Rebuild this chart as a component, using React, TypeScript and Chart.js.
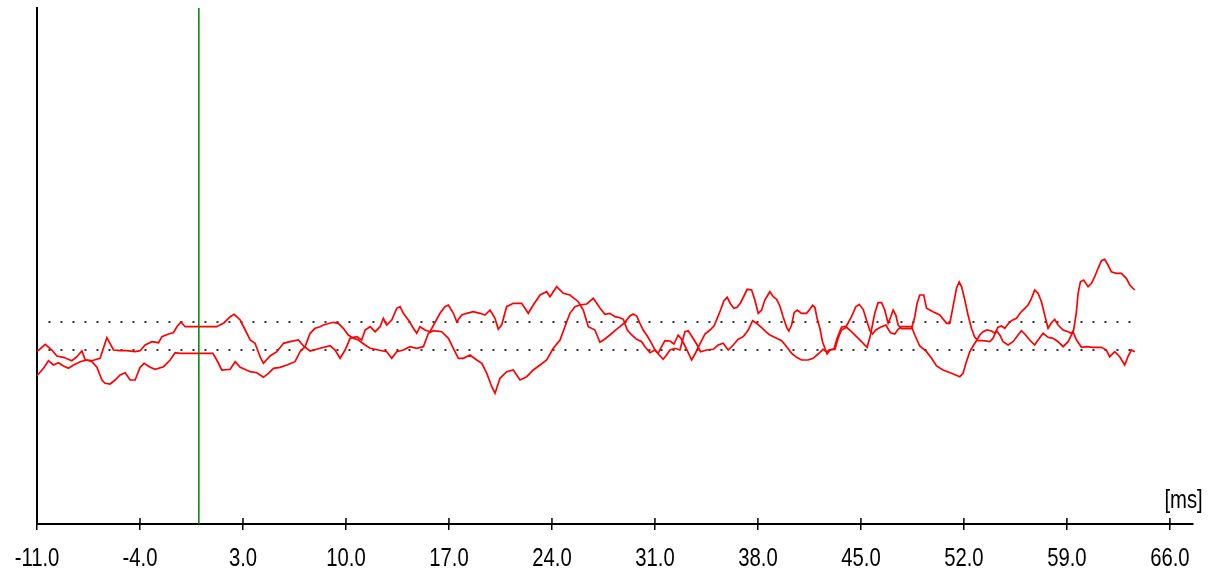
import { useEffect, useRef } from "react";
import { Chart, registerables } from "chart.js";

Chart.register(...registerables);

// x axis (ms)
const X_MIN = -11;
const X_MAX = 67.55;
const X_TICKS = [-11, -4, 3, 10, 17, 24, 31, 38, 45, 52, 59, 66];
const X_UNIT = "[ms]";

// y axis (arbitrary amplitude units, hidden)
const Y_MIN = -17.4;
const Y_MAX = 34.2;

// stimulus marker and channel baselines
const STIMULUS_MS = 0;
const BASELINES = [2.8, 0];
const BASELINE_START = -10.22;
const BASELINE_END = 63.5;

// trace A: [ms, amplitude]
const TRACE_A: [number, number][] = [
  [-11.0, -0.17], [-10.44, 0.57], [-9.99, 0], [-9.65, -0.6], [-9.2, -0.73], [-8.63, -1.07], [-8.29, -0.67],
  [-7.95, -0.1], [-7.72, -1.0], [-7.27, -1.07], [-6.71, -0.83], [-6.25, 1.23], [-5.8, 0], [-5.35, -0.07],
  [-4.89, -0.07], [-4.33, -0.17], [-3.99, -0.07], [-3.65, 0.5], [-3.19, 0.83], [-2.74, 0.73], [-2.51, 1.33],
  [-2.07, 1.6], [-1.73, 1.73], [-1.49, 2.33], [-1.22, 2.8], [-0.93, 2.33], [1.22, 2.33], [1.72, 2.73],
  [2.13, 3.33], [2.4, 3.57], [2.81, 3.0], [3.15, 2.0], [3.49, 1.0], [3.82, 0.67], [4.16, -0.67], [4.39, -1.33],
  [4.84, -0.6], [5.3, -0.17], [5.75, 0.67], [6.2, 0.83], [6.77, 1.0], [7.11, 0.4], [7.56, -0.1], [8.24, 0.17],
  [8.92, 0.43], [9.26, 0], [9.6, -0.83], [9.94, 0], [10.28, 1.17], [10.73, 1.33], [11.07, 1.0], [11.3, 2.0],
  [11.64, 2.33], [11.98, 1.83], [12.32, 2.33], [12.54, 3.17], [12.77, 2.5], [13.11, 3.0], [13.45, 4.17],
  [13.68, 4.33], [13.9, 3.67], [14.24, 3.0], [14.58, 2.17], [14.81, 1.67], [15.03, 2.33], [15.37, 2.0],
  [15.71, 1.83], [16.39, 3.67], [16.73, 4.33], [16.96, 4.5], [17.3, 3.67], [17.53, 2.83], [17.87, 3.5],
  [18.21, 3.67], [18.65, 3.83], [19.11, 3.67], [19.45, 3.5], [19.79, 4.0], [20.13, 3.17], [20.35, 2.07],
  [20.58, 2.5], [20.92, 4.33], [21.37, 4.67], [21.94, 4.67], [22.39, 3.67], [22.73, 4.5], [23.19, 5.5],
  [23.64, 5.83], [23.87, 5.33], [24.32, 6.33], [24.77, 5.67], [25.22, 5.5], [25.79, 4.83], [26.13, 4.0],
  [26.47, 2.33], [26.92, 2.0], [27.26, 0.77], [27.6, 1.1], [27.94, 1.5], [28.28, 1.93], [28.62, 2.33],
  [28.96, 2.77], [29.3, 3.4], [29.52, 3.6], [29.76, 3.4], [29.98, 2.67], [30.2, 2.0], [30.48, 1.4],
  [30.77, 0.67], [31.0, 0], [31.29, -0.5], [31.56, -0.93], [31.79, -0.5], [32.02, 0], [32.36, 0.17],
  [32.7, 0], [33.04, 1.83], [33.26, 1.93], [33.49, 1.4], [33.83, 0.6], [34.1, -0.17], [34.51, 0],
  [34.96, 0.07], [35.3, 0.5], [35.64, 0.67], [35.98, 0], [36.32, 0.5], [36.66, 1.07], [37.0, 1.33],
  [37.34, 2.0], [37.64, 2.93], [37.91, 2.67], [38.25, 2.23], [38.59, 1.77], [38.81, 1.5], [39.27, 1.17],
  [39.61, 0.93], [39.95, 0.33], [40.29, -0.33], [40.63, -0.73], [40.96, -1.0], [41.41, -1.0], [41.75, -0.83],
  [42.09, -0.4], [42.43, 0.07], [42.66, -0.17], [43.0, 0.07], [43.23, 0.07], [43.45, 1.17], [43.68, 2.0],
  [44.02, 2.27], [44.36, 1.83], [44.7, 1.33], [45.04, 0.83], [45.42, 0.27], [45.65, 1.5], [45.94, 3.67],
  [46.17, 4.73], [46.4, 4.73], [46.62, 4.0], [46.85, 2.67], [47.03, 3.33], [47.19, 4.0], [47.37, 3.5],
  [47.53, 2.5], [47.76, 2.13], [48.44, 2.13], [48.66, 3.33], [48.82, 4.67], [49.0, 5.5], [49.27, 5.5],
  [49.46, 4.17], [49.9, 3.83], [50.36, 3.5], [50.82, 2.67], [51.04, 2.67], [51.26, 4.33], [51.5, 6.2],
  [51.68, 6.8], [51.85, 6.3], [52.06, 5.0], [52.28, 3.5], [52.51, 2.17], [52.74, 1.27], [52.96, 0.93],
  [53.3, 0.93], [53.76, 0.83], [53.98, 1.17], [54.21, 1.93], [54.44, 1.5], [54.66, 0.83], [55.0, 0.5],
  [55.34, 0.83], [55.68, 1.5], [55.91, 1.93], [56.14, 1.6], [56.47, 1.0], [56.81, 0.5], [57.04, 1.0],
  [57.38, 1.67], [57.72, 1.27], [58.06, 1.17], [58.4, 0.83], [58.74, 0.33], [59.08, 0.83], [59.42, 1.83],
  [59.65, 1.0], [59.99, 0.27], [60.33, 0.33], [60.77, 0.27], [61.34, 0.27], [61.68, 0], [61.91, -0.67],
  [62.25, -0.17], [62.59, -0.67], [62.93, -1.5], [63.15, -0.67], [63.38, 0], [63.61, -0.17],
];

// trace B: [ms, amplitude]
const TRACE_B: [number, number][] = [
  [-11.0, -2.57], [-10.56, -1.83], [-10.22, -1.07], [-9.88, -1.5], [-9.54, -1.27], [-9.2, -1.6], [-8.86, -1.83],
  [-8.52, -1.5], [-8.06, -1.17], [-7.61, -1.0], [-7.27, -1.17], [-6.93, -1.73], [-6.59, -3.0], [-6.37, -3.33],
  [-6.03, -3.4], [-5.69, -3.0], [-5.35, -2.5], [-5.01, -2.27], [-4.67, -3.0], [-4.33, -3.0], [-3.99, -1.73],
  [-3.72, -1.33], [-3.31, -1.73], [-2.97, -1.93], [-2.4, -1.67], [-1.95, -1.0], [-1.61, -0.27], [-1.27, -0.33],
  [0.95, -0.33], [1.22, -1.0], [1.56, -2.0], [2.13, -1.93], [2.47, -1.17], [2.81, -1.73], [3.49, -2.17],
  [3.94, -2.27], [4.39, -2.73], [4.73, -2.33], [5.07, -1.83], [5.52, -1.73], [5.98, -1.5], [6.54, -1.17],
  [6.88, -0.17], [7.22, 0.33], [7.56, 1.67], [7.9, 2.17], [8.24, 2.33], [8.46, 2.5], [9.14, 2.77], [9.48, 2.67],
  [9.82, 2.17], [10.16, 1.5], [10.5, 1.17], [10.84, 1.0], [11.3, 0.5], [11.64, 0.17], [12.2, 0], [12.77, -0.17],
  [13.11, -0.83], [13.45, -0.17], [13.9, 0], [14.35, 0.33], [14.81, 0.17], [15.26, 0.33], [15.6, 1.67],
  [15.94, 1.93], [16.51, 1.83], [16.96, 1.17], [17.3, 0.17], [17.64, -0.83], [17.98, -0.83], [18.43, -0.5],
  [18.89, -1.0], [19.23, -1.33], [19.57, -2.33], [19.91, -3.67], [20.13, -4.33], [20.47, -2.83], [20.92, -2.17],
  [21.37, -2.0], [21.83, -3.0], [22.28, -2.67], [22.73, -2.0], [23.19, -1.5], [23.64, -1.0], [24.09, 0.17],
  [24.55, 1.0], [24.88, 2.33], [25.22, 3.67], [25.56, 4.33], [25.9, 4.5], [26.36, 4.6], [26.81, 5.17],
  [27.26, 4.2], [27.6, 3.57], [27.94, 3.67], [28.28, 3.33], [28.62, 3.23], [28.85, 3.07], [29.12, 2.0],
  [29.42, 1.5], [29.76, 1.07], [30.1, 0.83], [30.32, 0.33], [30.66, -0.27], [31.0, 0], [31.22, -0.33],
  [31.45, 0.33], [31.68, 0.93], [32.02, 0.9], [32.29, 0.6], [32.58, 1.5], [32.81, 1.07], [33.04, 0.4],
  [33.26, -0.27], [33.49, -1.0], [33.72, -0.4], [33.94, 0.27], [34.17, 0.93], [34.4, 1.6], [34.74, 2.0],
  [35.01, 2.4], [35.23, 3.17], [35.46, 4.0], [35.69, 4.93], [35.91, 5.27], [36.14, 4.6], [36.37, 4.17],
  [36.59, 4.27], [36.82, 4.73], [37.05, 5.4], [37.27, 6.07], [37.57, 6.0], [37.79, 5.0], [38.02, 3.67],
  [38.25, 4.0], [38.47, 5.0], [38.81, 5.83], [39.04, 5.33], [39.27, 5.07], [39.49, 4.4], [39.71, 3.33],
  [39.95, 2.27], [40.1, 1.9], [40.29, 2.5], [40.46, 3.73], [40.67, 4.0], [40.96, 3.67], [41.3, 3.67],
  [41.53, 4.07], [41.71, 4.47], [41.87, 4.27], [42.02, 3.17], [42.21, 2.17], [42.39, 0.83], [42.55, 0.17],
  [42.7, -0.4], [42.89, 0], [43.16, 0.07], [43.38, 1.17], [43.68, 2.27], [44.02, 2.4], [44.36, 3.33],
  [44.65, 4.33], [44.88, 4.57], [45.15, 4.07], [45.38, 3.0], [45.61, 1.93], [45.79, 1.6], [46.01, 2.0],
  [46.33, 2.27], [46.69, 2.5], [47.01, 1.73], [47.3, 1.6], [47.53, 2.07], [47.76, 2.33], [48.44, 2.33],
  [48.66, 1.5], [49.0, 0.4], [49.46, -0.17], [49.8, -0.83], [50.14, -1.6], [50.58, -2.0], [51.16, -2.33],
  [51.72, -2.67], [51.94, -2.33], [52.17, -1.17], [52.4, -0.17], [52.62, 0.4], [52.85, 0.93], [53.08, 1.5],
  [53.3, 1.83], [53.57, 2.0], [53.87, 1.9], [54.1, 1.67], [54.32, 2.27], [54.55, 2.4], [54.78, 2.17],
  [55.0, 2.6], [55.23, 2.93], [55.57, 3.17], [55.84, 3.73], [56.14, 4.17], [56.36, 4.5], [56.59, 5.17],
  [56.81, 6.0], [57.04, 5.67], [57.27, 4.83], [57.49, 3.5], [57.72, 2.17], [57.95, 2.73], [58.17, 3.07],
  [58.4, 2.5], [58.74, 2.0], [59.08, 1.83], [59.31, 1.67], [59.46, 2.0], [59.65, 3.83], [59.76, 5.67],
  [59.92, 6.83], [60.14, 7.0], [60.44, 6.33], [60.67, 6.67], [60.89, 7.33], [61.12, 8.17], [61.35, 8.93],
  [61.57, 9.07], [61.79, 8.5], [62.02, 7.83], [62.36, 7.67], [62.7, 7.67], [63.04, 7.17], [63.27, 6.5],
  [63.61, 6.0],
];

const FONT = '"Liberation Sans", Arial, sans-serif';
const FONT_SIZE = 26;
const TEXT_SQUEEZE = 0.78; // the original labels are drawn with a narrow face

const toPoints = (arr: [number, number][]) => arr.map(([x, y]) => ({ x, y }));

const fmtTick = (v: number) => Number(v).toFixed(1);

function drawNarrowText(ctx: CanvasRenderingContext2D, text: string, x: number, y: number, align: CanvasTextAlign) {
  ctx.save();
  ctx.translate(x, y);
  ctx.scale(TEXT_SQUEEZE, 1);
  ctx.textAlign = align;
  ctx.textBaseline = "alphabetic";
  ctx.fillText(text, 0, 0);
  ctx.restore();
}

const overlayPlugin = {
  id: "overlay",
  afterDraw(chart: any) {
    const { ctx, chartArea, scales } = chart;
    const xs = scales.x;
    ctx.save();
    // upper halves of the tick marks (ticks cross the axis)
    ctx.strokeStyle = "#000";
    ctx.lineWidth = 1.5;
    for (const t of xs.ticks) {
      const px = xs.getPixelForValue(t.value);
      ctx.beginPath();
      ctx.moveTo(px, chartArea.bottom - 6);
      ctx.lineTo(px, chartArea.bottom);
      ctx.stroke();
    }
    // tick labels
    ctx.fillStyle = "#000";
    ctx.font = `${FONT_SIZE}px ${FONT}`;
    for (const t of xs.ticks) {
      const px = xs.getPixelForValue(t.value);
      drawNarrowText(ctx, fmtTick(t.value), px, chartArea.bottom + 42, "center");
    }
    // unit label
    drawNarrowText(ctx, X_UNIT, xs.right + 10, chartArea.bottom - 16, "right");
    ctx.restore();
  },
};

export default function App() {
  const canvasRef = useRef<HTMLCanvasElement | null>(null);

  useEffect(() => {
    const canvas = canvasRef.current;
    if (!canvas) return;

    const datasets: any[] = [
      {
        label: "stimulus",
        data: [
          { x: STIMULUS_MS, y: Y_MIN },
          { x: STIMULUS_MS, y: Y_MAX },
        ],
        borderColor: "#008000",
        borderWidth: 1.5,
        pointRadius: 0,
        order: 0,
      },
      {
        label: "A",
        data: toPoints(TRACE_A),
        borderColor: "#ff0000",
        borderWidth: 1.7,
        pointRadius: 0,
        tension: 0,
        order: 1,
      },
      {
        label: "B",
        data: toPoints(TRACE_B),
        borderColor: "#ff0000",
        borderWidth: 1.7,
        pointRadius: 0,
        tension: 0,
        order: 1,
      },
      ...BASELINES.map((b, i) => ({
        label: `baseline ${i}`,
        data: [
          { x: BASELINE_START, y: b },
          { x: BASELINE_END, y: b },
        ],
        borderColor: "#333333",
        borderWidth: 2,
        borderDash: [2, 10],
        pointRadius: 0,
        order: 2,
      })),
    ];

    const chart = new Chart(canvas, {
      type: "line",
      data: { datasets },
      options: {
        animation: false,
        responsive: false,
        devicePixelRatio: 1,
        parsing: false as any,
        normalized: true,
        layout: { padding: { left: 0, right: 27.3, top: 8, bottom: 40 } },
        plugins: {
          legend: { display: false },
          tooltip: { enabled: false },
        },
        scales: {
          x: {
            type: "linear",
            min: X_MIN,
            max: X_MAX,
            afterBuildTicks: (s: any) => {
              s.ticks = X_TICKS.map((v) => ({ value: v }));
            },
            ticks: {
              display: false,
              autoSkip: false,
              maxRotation: 0,
              minRotation: 0,
              callback: (v: any) => fmtTick(v),
            },
            grid: {
              drawOnChartArea: false,
              drawTicks: true,
              tickLength: 6,
              color: "#000",
              lineWidth: 1.5,
            },
            border: { display: true, color: "#000", width: 2 },
          },
          y: {
            type: "linear",
            min: Y_MIN,
            max: Y_MAX,
            afterFit: (s: any) => {
              s.width = 37;
            },
            ticks: { display: false },
            grid: { display: false, drawTicks: false },
            border: { display: true, color: "#000", width: 2 },
          },
        },
      },
      plugins: [overlayPlugin],
    });

    return () => chart.destroy();
  }, []);

  return (
    <canvas
      ref={canvasRef}
      width={1220}
      height={570}
      style={{ position: "fixed", left: 0, top: 0, width: 1220, height: 570, display: "block", background: "#fff" }}
    />
  );
}
